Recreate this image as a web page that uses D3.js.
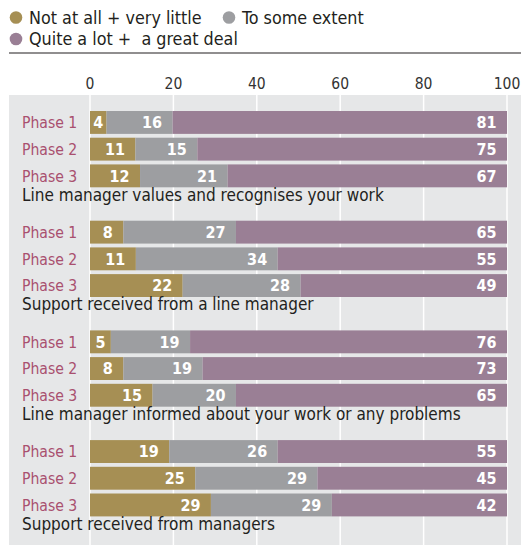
<!DOCTYPE html>
<html><head><meta charset="utf-8">
<script src="https://cdn.jsdelivr.net/npm/d3@7"></script>
<style>body{margin:0;background:#fff}svg{display:block}</style>
</head><body>
<script>
const groups = ["Line manager values and recognises your work","Support received from a line manager","Line manager informed about your work or any problems","Support received from managers"];
const phases = ["Phase 1","Phase 2","Phase 3"];
const seriesNames = ["Not at all + very little","To some extent","Quite a lot +  a great deal"];
const seriesColors = ["#a68f54","#9d9ea1","#9a7f95"];
const notAtAll = [[4,11,12],[8,11,22],[5,8,15],[19,25,29]];
const someExtent = [[16,15,21],[27,34,28],[19,19,20],[26,29,29]];
const quiteALot = [[81,75,67],[65,55,49],[76,73,65],[55,45,42]];
const ticks = [0,20,40,60,80,100];

const W=521,H=545;
const font="'DejaVu Sans Condensed','DejaVu Sans',sans-serif";
const svg=d3.select("body").append("svg").attr("width",W).attr("height",H).style("font-family",font);

// legend
const leg=[{i:0,x:16,y:17.5},{i:1,x:229,y:17.5},{i:2,x:16,y:39}];
leg.forEach(d=>{
  svg.append("circle").attr("cx",d.x).attr("cy",d.y).attr("r",6.3).attr("fill",seriesColors[d.i]);
  svg.append("text").attr("x",d.x+13).attr("y",d.y+6.3).attr("font-size",17.8).attr("fill","#231f20")
    .style("white-space","pre").text(seriesNames[d.i]);
});
svg.append("line").attr("x1",9).attr("x2",W).attr("y1",53).attr("y2",53).attr("stroke","#231f20").attr("stroke-width",1.2);

// panel
svg.append("rect").attr("x",9).attr("y",95).attr("width",W-9).attr("height",H-95).attr("fill","#e6e7e8");

const x=d3.scaleLinear().domain([0,1]).range([90,507]);
const xt=d3.scaleLinear().domain([0,100]).range([90,507]);
const gy=d3.scaleBand().domain(groups).range([111,111+4*109.7]);
const py=d3.scaleBand().domain(phases).range([0,76.3]).paddingInner(0.143).paddingOuter(0);

// grid
svg.append("g").selectAll("line").data(ticks).join("line")
  .attr("x1",d=>xt(d)).attr("x2",d=>xt(d)).attr("y1",95).attr("y2",H)
  .attr("stroke","#fff").attr("stroke-width",1.5);
// tick labels
svg.append("g").selectAll("text").data(ticks).join("text")
  .attr("x",d=>xt(d)).attr("y",89).attr("text-anchor","middle").attr("font-size",15.5).attr("fill","#333").text(d=>d);

const all=[notAtAll,someExtent,quiteALot];
groups.forEach((g,gi)=>{
  const G=svg.append("g").attr("transform",`translate(0,${gy(g)})`);
  const rows=phases.map((p,pi)=>({phase:p,s0:notAtAll[gi][pi],s1:someExtent[gi][pi],s2:quiteALot[gi][pi]}));
  const stack=d3.stack().keys(["s0","s1","s2"]).offset(d3.stackOffsetExpand)(rows);
  phases.forEach((p,pi)=>{
    const y0=py(p), h=py.bandwidth();
    G.append("text").attr("x",22).attr("y",y0+h/2+5.7).attr("font-size",15.6).attr("fill","#a9506f").text(p);
  });
  stack.forEach((layer,si)=>{
    layer.forEach((d,pi)=>{
      const p=phases[pi], y0=py(p), h=py.bandwidth();
      const x0=x(d[0]), x1=x(d[1]);
      const v=all[si][gi][pi];
      G.append("rect").attr("x",x0).attr("y",y0).attr("width",x1-x0).attr("height",h).attr("fill",seriesColors[si]);
      const t=G.append("text").attr("y",y0+h/2+5.8).attr("font-size",16).attr("font-weight","bold").attr("fill","#fff").attr("text-anchor","end").text(v);
      const tw=t.node().getComputedTextLength();
      const pad=Math.min(10.5,(x1-x0-tw)/2);
      t.attr("x",x1-pad);
    });
  });
  G.append("text").attr("x",22).attr("y",89.5).attr("font-size",17).attr("fill","#231f20").text(g);
});
</script>
</body></html>
